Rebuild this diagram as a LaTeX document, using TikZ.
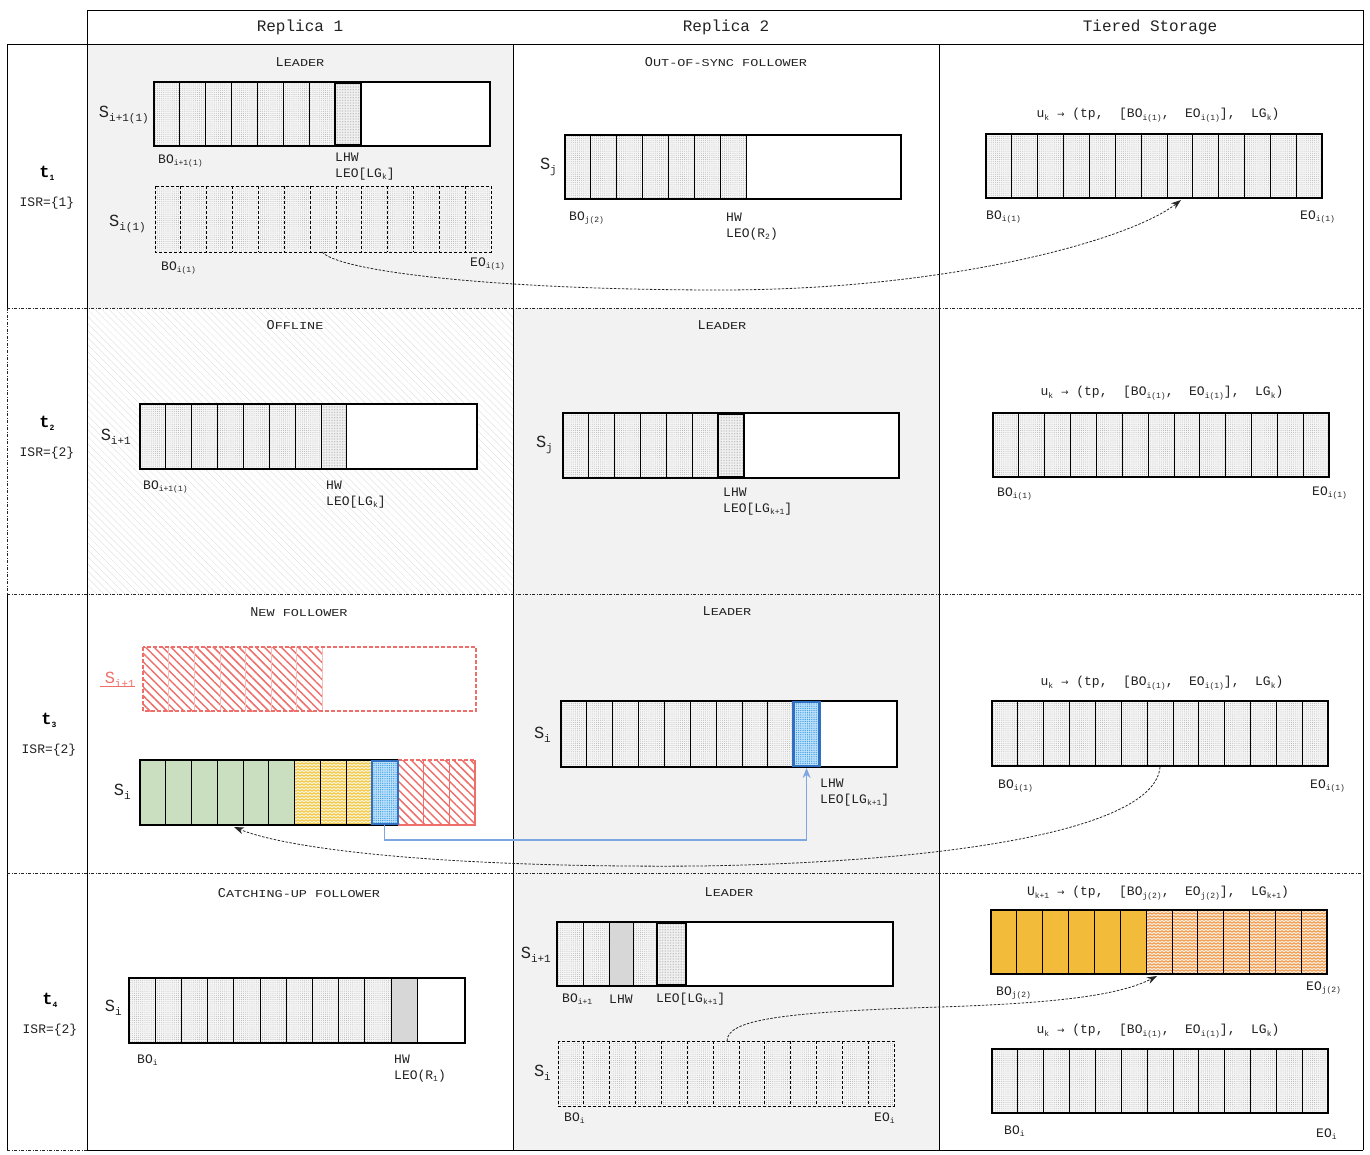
\documentclass[tikz,border=0pt]{standalone}
\usepackage{fontspec}
\setmonofont{Liberation Mono}
\newfontfamily\djv{DejaVu Sans}
\usepackage{graphicx}
\usetikzlibrary{patterns,patterns.meta,arrows.meta}
\definecolor{bggray}{HTML}{F2F2F2}
\definecolor{txt}{HTML}{222222}
\definecolor{redc}{HTML}{EE6F6A}
\definecolor{grn}{HTML}{8DBB76}
\definecolor{blu}{HTML}{2E9BEA}
\definecolor{bluborder}{HTML}{2F70C2}
\definecolor{bluline}{HTML}{7EA6E0}
\definecolor{yel}{HTML}{F0BE22}
\definecolor{org}{HTML}{F9BF3C}
\definecolor{orgw}{HTML}{F0892A}
\pgfdeclarepatternformonly{zigzag}{\pgfpoint{-0.5pt}{-0.5pt}}{\pgfpoint{4.5pt}{3.5pt}}{\pgfpoint{4pt}{3pt}}{%
  \pgfsetlinewidth{0.75pt}%
  \pgfpathmoveto{\pgfpoint{0pt}{0.6pt}}%
  \pgfpathlineto{\pgfpoint{2pt}{2.4pt}}%
  \pgfpathlineto{\pgfpoint{4pt}{0.6pt}}%
  \pgfusepath{stroke}}
\newcommand\sbs[1]{\raisebox{-0.35ex}{\fontsize{8}{8}\selectfont #1}}
\newcommand\Sbs[1]{\raisebox{-0.45ex}{\fontsize{11}{11}\selectfont #1}}
\newcommand\fsc[2]{#1\scalebox{1}[0.78]{#2}}
\newcommand\arr{{\djv\fontsize{9}{9}\selectfont →}}
\tikzset{
  tbl/.style={line width=0.9pt, black},
  dd/.style={line width=0.7pt, black!85, dash pattern=on 3pt off 1.5pt on 1pt off 1.5pt},
  thk/.style={line width=2.4pt, black},
  divl/.style={line width=0.8pt, black},
  ddiv/.style={line width=0.8pt, black, dash pattern=on 3pt off 2pt},
  dotc/.style={fill=gray!8, postaction={pattern={Dots[distance=2.1pt,radius=0.38pt]}, pattern color=gray!75}},
  densec/.style={fill=gray!6, postaction={pattern={Dots[distance=1.6pt,radius=0.5pt]}, pattern color=gray!55}},
  grayc/.style={fill=gray!28, postaction={pattern={Dots[distance=2pt,radius=0.35pt]}, pattern color=gray!60}},
  greenc/.style={fill=grn!30, postaction={pattern={Dots[distance=2pt,radius=0.6pt]}, pattern color=grn}},
  bluec/.style={fill=blu!30, postaction={pattern={Dots[distance=2.2pt,radius=0.65pt]}, pattern color=blu}},
  yelc/.style={fill=yel!18, postaction={pattern=zigzag, pattern color=yel}},
  orgsolid/.style={fill=org, postaction={pattern={Dots[distance=2pt,radius=0.35pt]}, pattern color=org!75!black}},
  orgwave/.style={fill=orgw!15, postaction={pattern=zigzag, pattern color=orgw}},
  redh/.style={fill=white, postaction={pattern={Lines[angle=-45,distance=6pt,line width=1.5pt]}, pattern color=redc}},
  lbl/.style={font=\ttfamily\fontsize{13}{14}\selectfont, text=txt, inner sep=0pt, anchor=west},
  seglbl/.style={font=\ttfamily\fontsize{17}{17}\selectfont, text=txt, inner sep=0pt, anchor=east},
  ttl/.style={font=\ttfamily\fontsize{13.5}{14}\selectfont, text=txt, inner sep=0pt},
  hdr/.style={font=\ttfamily\fontsize{16}{17}\selectfont, text=txt, inner sep=0pt},
  tlbl/.style={font=\ttfamily\bfseries\fontsize{17}{17}\selectfont, text=black, inner sep=0pt},
  conn/.style={line width=0.8pt, black!85, dash pattern=on 2.5pt off 1.5pt, -{Stealth[length=10pt,width=7pt]}},
  bconn/.style={line width=1.2pt, bluline, -{Stealth[length=10pt,width=8pt]}},
}
\begin{document}
\begin{tikzpicture}[x=1pt,y=-1pt]
\useasboundingbox (0,0) rectangle (1370,1155);
\def\w{25.85}
% ---------- backgrounds
\fill[bggray] (87,44) rectangle (513,308);
\fill[bggray] (513,308) rectangle (939,1150);
\fill[pattern={Lines[angle=-45,distance=5pt,line width=0.5pt]}, pattern color=gray!22] (87,308) rectangle (513,594);
% ---------- table
\draw[tbl] (87,10) rectangle (1363,44);
\draw[tbl] (87,44) -- (87,1150);
\draw[tbl] (513,44) -- (513,1150);
\draw[tbl] (939,44) -- (939,1150);
\draw[tbl] (1363,44) -- (1363,1150);
\draw[tbl] (7,44) -- (87,44);
\draw[tbl] (7,44) -- (7,308);
\draw[dd] (7,308) -- (7,594);
\draw[tbl] (7,594) -- (7,1150);
\draw[dd] (7,308) -- (1363,308);
\draw[dd] (7,594) -- (1363,594);
\draw[dd] (7,873) -- (1363,873);
\draw[tbl] (87,1150) -- (1363,1150);
\draw[dd] (7,1150) -- (87,1150);
% headers
\node[hdr] (h1) at (300,27) {Replica 1};
\node[hdr] (h2) at (726,27) {Replica 2};
\node[hdr] (h3) at (1150,27) {Tiered Storage};
% time labels
\node[tlbl] (t1) at (47,173) {t\sbs{1}};
\node[lbl,anchor=center] (isr1) at (47,203) {ISR=\{1\}};
\node[tlbl] (t2) at (47,423) {t\sbs{2}};
\node[lbl,anchor=center] (isr2) at (47,453) {ISR=\{2\}};
\node[tlbl] (t3) at (49,720) {t\sbs{3}};
\node[lbl,anchor=center] (isr3) at (49,750) {ISR=\{2\}};
\node[tlbl] (t4) at (50,1000) {t\sbs{4}};
\node[lbl,anchor=center] (isr4) at (50,1030) {ISR=\{2\}};
% titles
\node[ttl] (ti1) at (300,62) {\fsc{L}{EADER}};
\node[ttl] (ti2) at (726,62) {\fsc{O}{UT-OF-SYNC FOLLOWER}};
\node[ttl] (ti3) at (295,325) {\fsc{O}{FFLINE}};
\node[ttl] (ti4) at (722,325) {\fsc{L}{EADER}};
\node[ttl] (ti5) at (299,612) {\fsc{N}{EW FOLLOWER}};
\node[ttl] (ti6) at (727,611) {\fsc{L}{EADER}};
\node[ttl] (ti7) at (299,893) {\fsc{C}{ATCHING-UP FOLLOWER}};
\node[ttl] (ti8) at (729,892) {\fsc{L}{EADER}};

% ================= t1 Replica 1 top
\fill[white] (154,82) rectangle (490,146);
\foreach \i in {0,...,6} \path[dotc] ({154+\i*\w},82) rectangle ({154+(\i+1)*\w},146);
\path[densec] ({154+7*\w},82) rectangle ({154+8*\w},146);
\foreach \i in {1,...,7} \draw[divl] ({154+\i*\w},82) -- ({154+\i*\w},146);
\draw[thk] (154,82) rectangle (490,146);
\draw[thk] ({154+7*\w},83) rectangle ({154+8*\w},145);
\node[seglbl] (s1) at (149,115) {S\Sbs{i+1(1)}};
\node[lbl] (bo1) at (158,161) {BO\sbs{i+1(1)}};
\node[lbl] (lhw1) at (335,157) {LHW};
\node[lbl] (leo1) at (335,174) {LEO[LG\sbs{k}]};
% t1 Replica 1 bottom (dashed)
\foreach \i in {0,...,12} \path[dotc] ({155+\i*\w},186) rectangle ({155+(\i+1)*\w},252);
\foreach \i in {1,...,12} \draw[ddiv] ({155+\i*\w},186) -- ({155+\i*\w},252);
\draw[ddiv] (155,186) rectangle (491,252);
\node[seglbl] (s2) at (146,224) {S\Sbs{i(1)}};
\node[lbl] (bo2) at (161,268) {BO\sbs{i(1)}};
\node[lbl] (eo2) at (470,264) {EO\sbs{i(1)}};
\coordinate (c1s) at (322,252);

% ================= t1 Replica 2
\fill[white] (565,135) rectangle (901,199);
\foreach \i in {0,...,6} \path[dotc] ({565+\i*\w},135) rectangle ({565+(\i+1)*\w},199);
\foreach \i in {1,...,7} \draw[divl] ({565+\i*\w},135) -- ({565+\i*\w},199);
\draw[thk] (565,135) rectangle (901,199);
\node[seglbl] (s3) at (557,167) {S\Sbs{j}};
\node[lbl] (bo3) at (569,218) {BO\sbs{j(2)}};
\node[lbl] (hw3) at (726,217) {HW};
\node[lbl] (leo3) at (726,234) {LEO(R\sbs{2})};

% ================= t1 Tiered
\node[lbl,anchor=center] (u1) at (1158,115) {u\sbs{k} \arr{} (tp,~~[BO\sbs{i(1)},~~EO\sbs{i(1)}],~~LG\sbs{k})};
\foreach \i in {0,...,12} \path[dotc] ({986+\i*\w},134) rectangle ({986+(\i+1)*\w},198);
\foreach \i in {1,...,12} \draw[divl] ({986+\i*\w},134) -- ({986+\i*\w},198);
\draw[thk] (986,134) rectangle (1322,198);
\node[lbl] (bo4) at (986,217) {BO\sbs{i(1)}};
\node[lbl] (eo4) at (1300,217) {EO\sbs{i(1)}};
\coordinate (c1e) at (1181,200);

% ================= t2 Replica 1
\fill[white] (140,404) rectangle (477,469);
\foreach \i in {0,...,6} \path[dotc] ({140+\i*\w},404) rectangle ({140+(\i+1)*\w},469);
\path[densec] ({140+7*\w},404) rectangle ({140+8*\w},469);
\foreach \i in {1,...,8} \draw[divl] ({140+\i*\w},404) -- ({140+\i*\w},469);
\draw[thk] (140,404) rectangle (477,469);
\node[seglbl] (s5) at (131,437) {S\Sbs{i+1}};
\node[lbl] (bo5) at (143,487) {BO\sbs{i+1(1)}};
\node[lbl] (hw5) at (326,485) {HW};
\node[lbl] (leo5) at (326,502) {LEO[LG\sbs{k}]};

% ================= t2 Replica 2
\fill[white] (563,413) rectangle (899,478);
\foreach \i in {0,...,5} \path[dotc] ({563+\i*\w},413) rectangle ({563+(\i+1)*\w},478);
\path[densec] ({563+6*\w},413) rectangle ({563+7*\w},478);
\foreach \i in {1,...,6} \draw[divl] ({563+\i*\w},413) -- ({563+\i*\w},478);
\draw[thk] (563,413) rectangle (899,478);
\draw[thk] ({563+6*\w},414) rectangle ({563+7*\w},477);
\node[seglbl] (s6) at (553,445) {S\Sbs{j}};
\node[lbl] (lhw6) at (723,492) {LHW};
\node[lbl] (leo6) at (723,509) {LEO[LG\sbs{k+1}]};

% ================= t2 Tiered
\node[lbl,anchor=center] (u2) at (1162,393) {u\sbs{k} \arr{} (tp,~~[BO\sbs{i(1)},~~EO\sbs{i(1)}],~~LG\sbs{k})};
\foreach \i in {0,...,12} \path[dotc] ({993+\i*\w},413) rectangle ({993+(\i+1)*\w},477);
\foreach \i in {1,...,12} \draw[divl] ({993+\i*\w},413) -- ({993+\i*\w},477);
\draw[thk] (993,413) rectangle (1329,477);
\node[lbl] (bo7) at (997,494) {BO\sbs{i(1)}};
\node[lbl] (eo7) at (1312,493) {EO\sbs{i(1)}};

% ================= t3 Replica 1 : red old segment
\def\wr{25.62}
\fill[white] (143,647) rectangle (476,711);
\foreach \i in {0,...,6} \path[redh] ({143+\i*\wr},647) rectangle ({143+(\i+1)*\wr},711);
\foreach \i in {1,...,7} \draw[line width=0.6pt, redc!45] ({143+\i*\wr},647) -- ({143+\i*\wr},711);
\draw[line width=1.2pt, redc, dash pattern=on 4pt off 2pt] (143,647) rectangle (476,711);
\node[seglbl, text=redc] (s8) at (135,680) {S\Sbs{i+1}};
\draw[line width=1pt, redc] (100,686) -- (135,686);
% t3 Replica 1 : S_i
\def\wg{25.77}
\foreach \i in {0,...,5} \path[greenc] ({140+\i*\wg},760) rectangle ({140+(\i+1)*\wg},825);
\foreach \i in {6,...,8} \path[yelc] ({140+\i*\wg},760) rectangle ({140+(\i+1)*\wg},825);
\path[bluec] ({140+9*\wg},760) rectangle ({140+10*\wg},825);
\foreach \i in {10,...,12} \path[redh] ({140+\i*\wg},760) rectangle ({140+(\i+1)*\wg},825);
\foreach \i in {1,...,9} \draw[divl] ({140+\i*\wg},760) -- ({140+\i*\wg},825);
\foreach \i in {11,12} \draw[line width=0.8pt, redc] ({140+\i*\wg},760) -- ({140+\i*\wg},825);
\draw[line width=1.2pt, redc, dash pattern=on 4pt off 2pt] ({140+10*\wg},760) -- (475,760);
\draw[line width=1.2pt, redc] (475,760) -- (475,825) -- ({140+10*\wg},825);
\draw[thk] ({140+10*\wg},760) -- (140,760) -- (140,825) -- ({140+10*\wg},825);
\draw[line width=2.4pt, bluborder] ({140+9*\wg},761) rectangle ({140+10*\wg},824);
\node[seglbl] (s9) at (131,792) {S\Sbs{i}};
\coordinate (b1s) at ({140+9.5*\wg},825);
\coordinate (c2e) at (234,827);

% ================= t3 Replica 2
\fill[white] (561,701) rectangle (897,767);
\foreach \i in {0,...,8} \path[dotc] ({561+\i*\w},701) rectangle ({561+(\i+1)*\w},767);
\path[bluec] ({561+9*\w},701) rectangle ({561+10*\w},767);
\foreach \i in {1,...,9} \draw[divl] ({561+\i*\w},701) -- ({561+\i*\w},767);
\draw[thk] (561,701) rectangle (897,767);
\draw[line width=2.4pt, bluborder] ({561+9*\w},702) rectangle ({561+10*\w},766);
\node[seglbl] (s10) at (551,735) {S\Sbs{i}};
\node[lbl] (lhw10) at (820,783) {LHW};
\node[lbl] (leo10) at (820,800) {LEO[LG\sbs{k+1}]};
\coordinate (b1e) at ({561+9.5*\w},768);

% ================= t3 Tiered
\node[lbl,anchor=center] (u3) at (1162,683) {u\sbs{k} \arr{} (tp,~~[BO\sbs{i(1)},~~EO\sbs{i(1)}],~~LG\sbs{k})};
\foreach \i in {0,...,12} \path[dotc] ({992+\i*\w},701) rectangle ({992+(\i+1)*\w},766);
\foreach \i in {1,...,12} \draw[divl] ({992+\i*\w},701) -- ({992+\i*\w},766);
\draw[thk] (992,701) rectangle (1328,766);
\node[lbl] (bo11) at (998,786) {BO\sbs{i(1)}};
\node[lbl] (eo11) at (1310,786) {EO\sbs{i(1)}};
\coordinate (c2s) at (1160,767);

% ================= t4 Replica 1
\def\wc{26.2}
\fill[white] (129,978) rectangle (465,1043);
\foreach \i in {0,...,9} \path[dotc] ({129+\i*\wc},978) rectangle ({129+(\i+1)*\wc},1043);
\path[grayc] ({129+10*\wc},978) rectangle ({129+11*\wc},1043);
\foreach \i in {1,...,11} \draw[divl] ({129+\i*\wc},978) -- ({129+\i*\wc},1043);
\draw[thk] (129,978) rectangle (465,1043);
\node[seglbl] (s12) at (122,1008) {S\Sbs{i}};
\node[lbl] (bo12) at (137,1060) {BO\sbs{i}};
\node[lbl] (hw12) at (394,1059) {HW};
\node[lbl] (leo12) at (394,1076) {LEO(R\sbs{1})};

% ================= t4 Replica 2 top
\fill[white] (557,922) rectangle (893,986);
\path[dotc] (557,922) rectangle (583,986);
\path[dotc] (583,922) rectangle (609,986);
\path[grayc] (609,922) rectangle (633,986);
\path[dotc] (633,922) rectangle (657,986);
\path[densec] (657,922) rectangle (686,986);
\foreach \x in {583,609,633} \draw[divl] (\x,922) -- (\x,986);
\draw[thk] (557,922) rectangle (893,986);
\draw[thk] (657,923) rectangle (686,985);
\node[seglbl] (s13) at (551,955) {S\Sbs{i+1}};
\node[lbl] (bo13) at (562,999) {BO\sbs{i+1}};
\node[lbl] (lhw13) at (609,999) {LHW};
\node[lbl] (leo13) at (656,999) {LEO[LG\sbs{k+1}]};
% t4 Replica 2 bottom (dashed)
\foreach \i in {0,...,12} \path[dotc] ({558+\i*\w},1041) rectangle ({558+(\i+1)*\w},1106);
\foreach \i in {1,...,12} \draw[ddiv] ({558+\i*\w},1041) -- ({558+\i*\w},1106);
\draw[ddiv] (558,1041) rectangle (894,1106);
\node[seglbl] (s14) at (551,1073) {S\Sbs{i}};
\node[lbl] (bo14) at (564,1118) {BO\sbs{i}};
\node[lbl] (eo14) at (874,1118) {EO\sbs{i}};
\coordinate (c3s) at (727,1041);

% ================= t4 Tiered top
\node[lbl,anchor=center] (u4) at (1158,893) {U\sbs{k+1} \arr{} (tp,~~[BO\sbs{j(2)},~~EO\sbs{j(2)}],~~LG\sbs{k+1})};
\foreach \i in {0,...,5} \path[orgsolid] ({991+\i*\w},910) rectangle ({991+(\i+1)*\w},974);
\foreach \i in {6,...,12} \path[orgwave] ({991+\i*\w},910) rectangle ({991+(\i+1)*\w},974);
\foreach \i in {1,...,12} \draw[divl] ({991+\i*\w},910) -- ({991+\i*\w},974);
\draw[thk] (991,910) rectangle (1327,974);
\node[lbl] (bo15) at (996,993) {BO\sbs{j(2)}};
\node[lbl] (eo15) at (1306,988) {EO\sbs{j(2)}};
\coordinate (c3e) at (1157,976);
% t4 Tiered bottom
\node[lbl,anchor=center] (u5) at (1158,1031) {u\sbs{k} \arr{} (tp,~~[BO\sbs{i(1)},~~EO\sbs{i(1)}],~~LG\sbs{k})};
\foreach \i in {0,...,12} \path[dotc] ({992+\i*\w},1049) rectangle ({992+(\i+1)*\w},1113);
\foreach \i in {1,...,12} \draw[divl] ({992+\i*\w},1049) -- ({992+\i*\w},1113);
\draw[thk] (992,1049) rectangle (1328,1113);
\node[lbl] (bo16) at (1004,1131) {BO\sbs{i}};
\node[lbl] (eo16) at (1316,1134) {EO\sbs{i}};

% ================= connectors
\draw[conn] (c1s) .. controls (340,272) and (500,290) .. (720,290) .. controls (950,290) and (1130,240) .. (c1e);
\draw[conn] (c2s) .. controls (1155,830) and (950,862) .. (700,866) .. controls (450,868) and (290,850) .. (c2e);
\draw[conn] (c3s) .. controls (727,1020) and (780,1012) .. (940,1007) .. controls (1060,1003) and (1120,995) .. (c3e);
\draw[bconn] (b1s) -- ++(0,15) -| (b1e);
\end{tikzpicture}
\end{document}
